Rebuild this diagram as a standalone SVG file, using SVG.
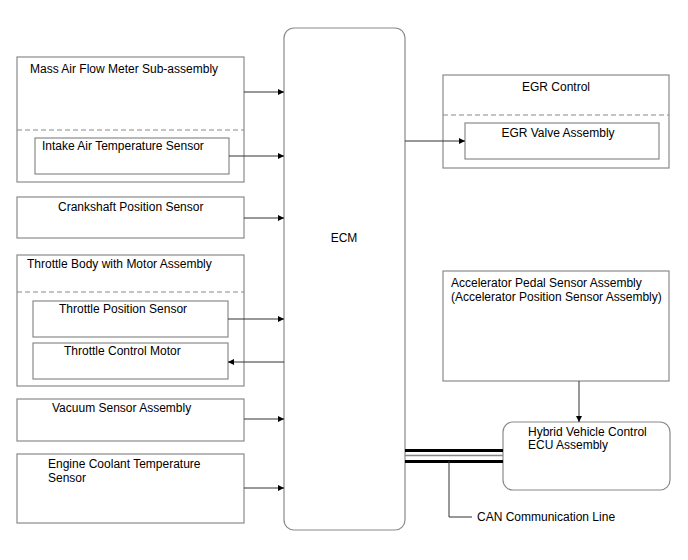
<svg xmlns="http://www.w3.org/2000/svg" width="688" height="560" viewBox="0 0 688 560">
<style>
.box{fill:#fff;stroke:#8a8a8a;stroke-width:1.2}
.dash{stroke:#8a8a8a;stroke-width:1.2;stroke-dasharray:5,3;fill:none}
.t{font-family:"Liberation Sans",Arial,sans-serif;font-size:12px;fill:#000}
.c{stroke:#333;stroke-width:1;fill:none}
</style>
<defs>
<marker id="ah" viewBox="0 0 10 10" refX="10" refY="5" markerWidth="10" markerHeight="6" markerUnits="userSpaceOnUse" orient="auto">
<path d="M0,0L10,5L0,10z" fill="#000"/>
</marker>
</defs>
<rect width="688" height="560" fill="#fff"/>
<g id="ecm">
<rect class="box" x="284" y="28" width="121" height="502" rx="10"/>
<text class="t" x="344" y="242" text-anchor="middle">ECM</text>
</g>
<g id="maf">
<rect class="box" x="17" y="57" width="227" height="125"/>
<line class="dash" x1="17" y1="130" x2="244" y2="130"/>
<text class="t" x="30" y="73">Mass Air Flow Meter Sub-assembly</text>
</g>
<g id="iat">
<rect class="box" x="35" y="138" width="194" height="36"/>
<text class="t" x="42" y="150">Intake Air Temperature Sensor</text>
</g>
<g id="ckp">
<rect class="box" x="17" y="197" width="227" height="41"/>
<text class="t" x="58" y="211">Crankshaft Position Sensor</text>
</g>
<g id="tb">
<rect class="box" x="17" y="255" width="227" height="131"/>
<line class="dash" x1="17" y1="292" x2="244" y2="292"/>
<text class="t" x="27" y="268">Throttle Body with Motor Assembly</text>
</g>
<g id="tps">
<rect class="box" x="33" y="301" width="195" height="36"/>
<text class="t" x="59" y="313">Throttle Position Sensor</text>
</g>
<g id="tcm">
<rect class="box" x="33" y="343" width="195" height="36"/>
<text class="t" x="64" y="355">Throttle Control Motor</text>
</g>
<g id="vac">
<rect class="box" x="17" y="399" width="227" height="42"/>
<text class="t" x="52" y="412">Vacuum Sensor Assembly</text>
</g>
<g id="ect">
<rect class="box" x="17" y="454" width="227" height="69"/>
<text class="t" x="48" y="468">Engine Coolant Temperature</text>
<text class="t" x="48" y="482">Sensor</text>
</g>
<g id="egr">
<rect class="box" x="443" y="75" width="226" height="93"/>
<line class="dash" x1="443" y1="115" x2="669" y2="115"/>
<text class="t" x="556" y="91" text-anchor="middle">EGR Control</text>
</g>
<g id="egrv">
<rect class="box" x="465" y="123" width="194" height="36"/>
<text class="t" x="558" y="137" text-anchor="middle">EGR Valve Assembly</text>
</g>
<g id="app">
<rect class="box" x="443" y="271" width="226" height="110"/>
<text class="t" x="451" y="287">Accelerator Pedal Sensor Assembly</text>
<text class="t" x="451" y="301">(Accelerator Position Sensor Assembly)</text>
</g>
<g id="hv">
<rect class="box" x="503" y="422" width="167" height="68" rx="10"/>
<text class="t" x="528" y="436">Hybrid Vehicle Control</text>
<text class="t" x="528" y="449">ECU Assembly</text>
</g>
<g id="can-label">
<text class="t" x="477" y="521">CAN Communication Line</text>
</g>
<g id="connectors">
<line class="c" x1="244" y1="92" x2="284" y2="92" marker-end="url(#ah)"/>
<line class="c" x1="229" y1="156" x2="284" y2="156" marker-end="url(#ah)"/>
<line class="c" x1="244" y1="218" x2="284" y2="218" marker-end="url(#ah)"/>
<line class="c" x1="228" y1="319" x2="284" y2="319" marker-end="url(#ah)"/>
<line class="c" x1="284" y1="362" x2="228" y2="362" marker-end="url(#ah)"/>
<line class="c" x1="244" y1="419" x2="284" y2="419" marker-end="url(#ah)"/>
<line class="c" x1="244" y1="488" x2="284" y2="488" marker-end="url(#ah)"/>
<line class="c" x1="405" y1="141" x2="465" y2="141" marker-end="url(#ah)"/>
<line class="c" x1="579" y1="381" x2="579" y2="422" marker-end="url(#ah)"/>
<line x1="405" y1="450.5" x2="503" y2="450.5" stroke="#000" stroke-width="3"/>
<line x1="405" y1="455.5" x2="503" y2="455.5" stroke="#888" stroke-width="1.5"/>
<line x1="405" y1="461.5" x2="503" y2="461.5" stroke="#000" stroke-width="3"/>
<polyline class="c" points="449,461 449,517 472,517"/>
</g>
</svg>
